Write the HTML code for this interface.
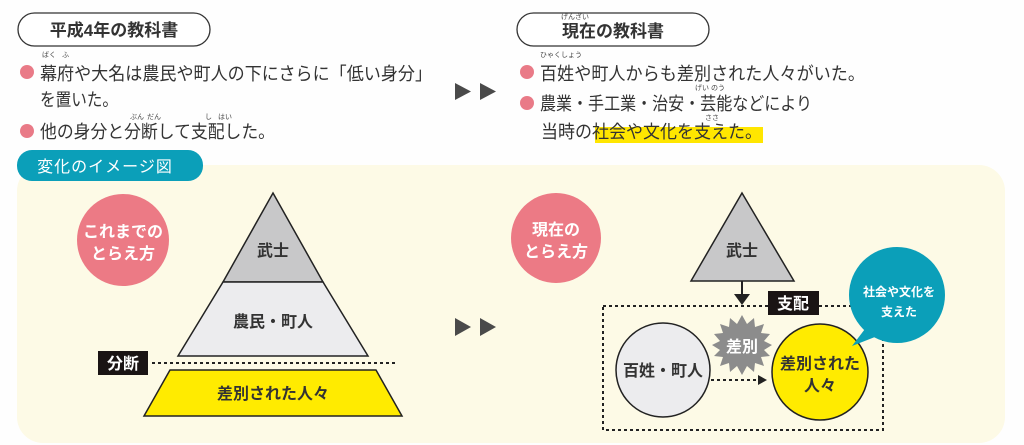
<!DOCTYPE html>
<html><head><meta charset="utf-8"><style>
html,body{margin:0;padding:0;background:#fff;}
svg{display:block;font-family:"Liberation Sans","Noto Sans CJK JP",sans-serif;}
</style></head><body>
<svg width="1024" height="445" viewBox="0 0 1024 445" xmlns="http://www.w3.org/2000/svg">
<rect width="1024" height="445" fill="#fefefe"/>
<!-- panel -->
<rect x="17" y="165" width="988" height="278" rx="26" fill="#fdfae6"/>
<rect x="17" y="150" width="186" height="31" rx="15" fill="#0b9fb9"/>
<text x="105" y="172" font-size="16" fill="#fff" text-anchor="middle" letter-spacing="1">変化のイメージ図</text>

<!-- top left -->
<rect x="18" y="13" width="192" height="33" rx="16.5" fill="#fff" stroke="#333" stroke-width="1.3"/>
<text x="114" y="36" font-size="17" font-weight="bold" fill="#333" text-anchor="middle">平成4年の教科書</text>
<g font-size="7" fill="#444"><text x="42" y="57">ばく</text><text x="62" y="57">ふ</text>
<text x="130" y="119">ぶん</text><text x="147" y="119">だん</text>
<text x="205" y="119">し</text><text x="218" y="119">はい</text></g>
<circle cx="27" cy="72" r="7" fill="#e97a87"/>
<circle cx="27" cy="131" r="7" fill="#e97a87"/>
<g font-size="18" fill="#333">
<text x="40" y="80" textLength="392" lengthAdjust="spacingAndGlyphs">幕府や大名は農民や町人の下にさらに「低い身分」</text>
<text x="40" y="106" textLength="78" lengthAdjust="spacingAndGlyphs">を置いた。</text>
<text x="40" y="138" textLength="235" lengthAdjust="spacingAndGlyphs">他の身分と分断して支配した。</text>
</g>
<g fill="#4a4a4a"><polygon points="455,83 471,91.5 455,100"/><polygon points="480,83 496,91.5 480,100"/>
<polygon points="455,318 471,327 455,336"/><polygon points="480,318 496,327 480,336"/></g>

<!-- top right -->
<rect x="517" y="13" width="192" height="33" rx="16.5" fill="#fff" stroke="#333" stroke-width="1.3"/>
<text x="613" y="37" font-size="17" font-weight="bold" fill="#333" text-anchor="middle">現在の教科書</text>
<g font-size="7" fill="#444"><text x="561" y="19">げんざい</text>
<text x="540" y="57">ひゃくしょう</text><text x="695" y="90">げい のう</text><text x="705" y="120">ささ</text></g>
<rect x="595" y="127" width="168" height="16" fill="#ffe600"/>
<circle cx="527" cy="72" r="7" fill="#e97a87"/>
<circle cx="527" cy="103" r="7" fill="#e97a87"/>
<g font-size="18" fill="#333">
<text x="540" y="80" textLength="325" lengthAdjust="spacingAndGlyphs">百姓や町人からも差別された人々がいた。</text>
<text x="540" y="110" textLength="272" lengthAdjust="spacingAndGlyphs">農業・手工業・治安・芸能などにより</text>
<text x="541" y="138" textLength="221" lengthAdjust="spacingAndGlyphs">当時の社会や文化を支えた。</text>
</g>

<!-- left diagram -->
<circle cx="123" cy="240" r="46" fill="#ec7a85"/>
<g font-size="16" fill="#fff" text-anchor="middle" font-weight="bold"><text x="123" y="237">これまでの</text><text x="123" y="259">とらえ方</text></g>
<polygon points="273,193 323,282 223,282" fill="#c8c8c9" stroke="#222" stroke-width="1.5"/>
<polygon points="223,282 323,282 368,356 178,356" fill="#ececee" stroke="#222" stroke-width="1.5"/>
<polygon points="170,370 376,370 402,416 144,416" fill="#ffeb00" stroke="#222" stroke-width="1.5"/>
<g font-size="16" fill="#333" text-anchor="middle" font-weight="bold">
<text x="273" y="256">武士</text><text x="273" y="327">農民・町人</text><text x="273" y="399">差別された人々</text></g>
<rect x="98" y="351" width="50" height="24" fill="#1a1414"/>
<text x="123" y="369" font-size="16" fill="#fff" text-anchor="middle" font-weight="bold">分断</text>
<line x1="152" y1="363" x2="398" y2="363" stroke="#222" stroke-width="2" stroke-dasharray="3,3"/>

<!-- right diagram -->
<circle cx="556" cy="238" r="45" fill="#ec7a85"/>
<g font-size="16" fill="#fff" text-anchor="middle" font-weight="bold"><text x="556" y="235">現在の</text><text x="556" y="257">とらえ方</text></g>
<polygon points="742,193 794,281 691,281" fill="#c8c8c9" stroke="#222" stroke-width="1.5"/>
<text x="742" y="256" font-size="16" fill="#333" text-anchor="middle" font-weight="bold">武士</text>
<line x1="742" y1="281" x2="742" y2="296" stroke="#222" stroke-width="2"/>
<polygon points="734,294 750,294 742,305" fill="#222"/>
<rect x="603" y="306" width="280" height="124" fill="none" stroke="#222" stroke-width="2" stroke-dasharray="3,3"/>
<rect x="768" y="291" width="51" height="24" fill="#1a1414"/>
<text x="793" y="309" font-size="16" fill="#fff" text-anchor="middle" font-weight="bold">支配</text>
<circle cx="663" cy="370" r="47" fill="#ececee" stroke="#222" stroke-width="1.5"/>
<text x="663" y="376" font-size="16" fill="#333" text-anchor="middle" font-weight="bold">百姓・町人</text>
<circle cx="820" cy="372" r="48" fill="#ffeb00" stroke="#222" stroke-width="1.5"/>
<g font-size="16" fill="#333" text-anchor="middle" font-weight="bold"><text x="820" y="369">差別された</text><text x="820" y="391">人々</text></g>
<line x1="711" y1="380" x2="760" y2="380" stroke="#222" stroke-width="2" stroke-dasharray="3,3"/>
<polygon points="758,375 767,380 758,385" fill="#222"/>
<polygon fill="#8c8c8c" points="742,315 747,324 754,318 755,327 764,324 761,333 770,334 764,341 772,345 764,350 770,356 761,357 764,366 755,363 754,372 747,366 742,375 737,366 730,372 729,363 720,366 723,357 714,356 720,350 712,345 720,341 714,334 723,333 720,324 729,327 730,318 737,324"/>
<text x="742" y="352" font-size="16" fill="#fff" text-anchor="middle" font-weight="bold">差別</text>
<polygon points="852,346 868,325 880,335" fill="#0b9fb9"/>
<circle cx="897" cy="295" r="48" fill="#0b9fb9"/>
<g font-size="12" fill="#fff" text-anchor="middle" font-weight="bold"><text x="899" y="296">社会や文化を</text><text x="899" y="316">支えた</text></g>
</svg>
</body></html>
